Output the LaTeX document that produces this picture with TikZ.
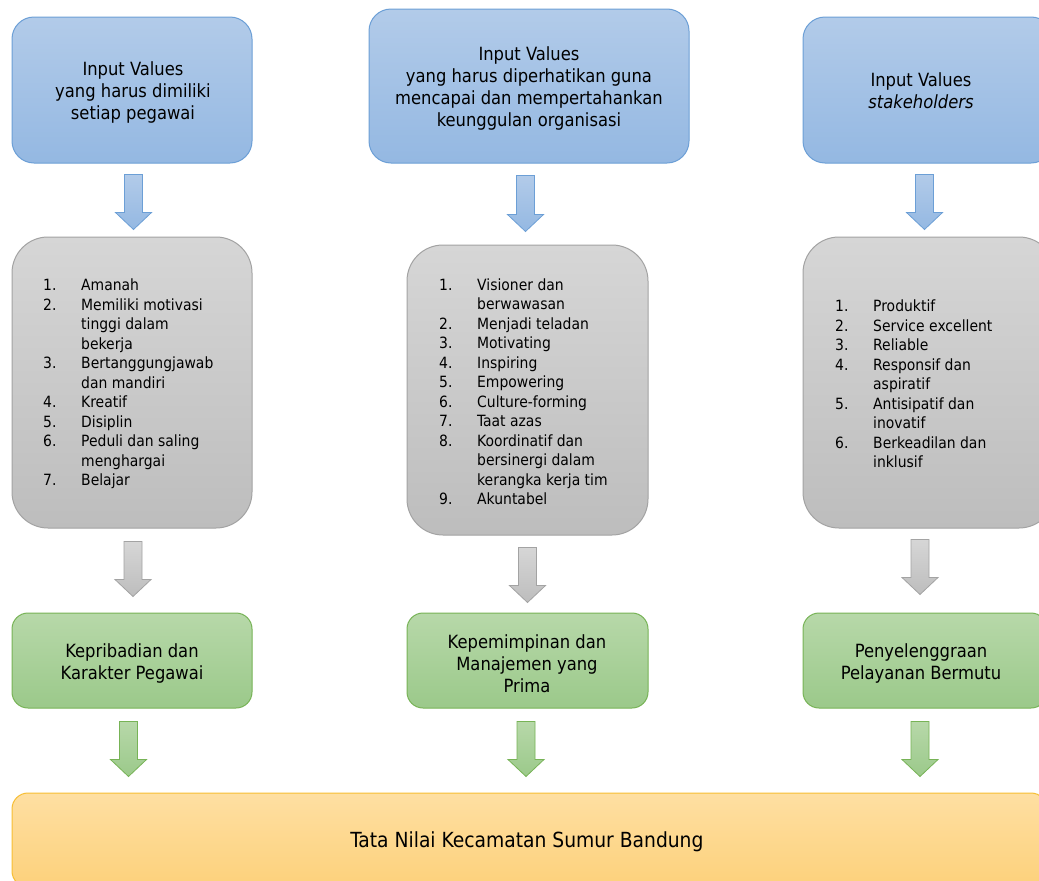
\documentclass[tikz,border=0pt]{standalone}
\usepackage{fontspec}
\setmainfont{DejaVu Sans Condensed}
\usetikzlibrary{calc}
\definecolor{blueT}{HTML}{B2CBE9}
\definecolor{blueB}{HTML}{94B8E2}
\definecolor{blueD}{HTML}{6C9FD6}
\definecolor{grayT}{HTML}{D6D6D6}
\definecolor{grayB}{HTML}{BDBDBD}
\definecolor{grayD}{HTML}{A3A3A3}
\definecolor{greenT}{HTML}{B7D8A9}
\definecolor{greenB}{HTML}{9BC98A}
\definecolor{greenD}{HTML}{77B356}
\definecolor{orangeT}{HTML}{FEDFA2}
\definecolor{orangeB}{HTML}{FDD17B}
\definecolor{orangeD}{HTML}{F7BE33}
\tikzset{
  boxbase/.style={draw, line width=1pt, inner sep=0pt},
  bluebox/.style={boxbase, draw=blueD, top color=blueT, bottom color=blueB, rounded corners=22pt},
  graybox/.style={boxbase, draw=grayD, top color=grayT, bottom color=grayB, rounded corners=36pt},
  greenbox/.style={boxbase, draw=greenD, top color=greenT, bottom color=greenB, rounded corners=16pt},
  orangebox/.style={boxbase, draw=orangeD, top color=orangeT, bottom color=orangeB, rounded corners=16pt},
  title/.style={align=center, inner sep=0pt, text=black, font=\fontsize{18.2}{22}\selectfont},
  bigtitle/.style={align=center, inner sep=0pt, text=black, font=\fontsize{20.8}{24}\selectfont},
  listtext/.style={align=left, inner sep=0pt, anchor=west, text=black, font=\fontsize{15.5}{19.5}\selectfont},
  bluearrow/.style={draw=blueD, line width=0.8pt, top color=blueT, bottom color=blueB},
  grayarrow/.style={draw=grayD, line width=0.8pt, top color=grayT, bottom color=grayB},
  greenarrow/.style={draw=greenD, line width=0.8pt, top color=greenT, bottom color=greenB},
}
\newcommand\nm[1]{\makebox[38pt][l]{#1}}
\newcommand\ct{\hspace*{38pt}}
% style, from node, to node, x centre (pt), gap above, gap below
\newcommand\blkarrow[6]{%
  \path[#1] let \p1=(#2.south), \p2=(#3.north) in
    (#4pt-9pt,\y1-#5pt) -- (#4pt+9pt,\y1-#5pt) -- (#4pt+9pt,\y2+#6pt+17pt)
    -- (#4pt+18pt,\y2+#6pt+17pt) -- (#4pt,\y2+#6pt) -- (#4pt-18pt,\y2+#6pt+17pt)
    -- (#4pt-9pt,\y2+#6pt+17pt) -- cycle;}
\begin{document}
\begin{tikzpicture}[x=1pt,y=-1pt]
\clip (0,0) rectangle (1039,881);
\fill[white] (0,0) rectangle (1039,881);

% top row
\node[bluebox, minimum width=240, minimum height=146] (b1) at (132,90) {};
\node[title] (b1t) at (133,92.5) {Input Values\\yang harus dimiliki\\setiap pegawai};
\node[bluebox, minimum width=320, minimum height=154] (b2) at (529,86) {};
\node[title] (b2t) at (529,88.5) {Input Values\\yang harus diperhatikan guna\\mencapai dan mempertahankan\\keunggulan organisasi};
\node[bluebox, minimum width=250, minimum height=146] (b3) at (928,90) {};
\node[title] (b3t) at (921,90.5) {Input Values\\\textit{stakeholders}};

% middle row
\node[graybox, minimum width=240, minimum height=291] (g1) at (132,382.5) {};
\node[listtext] (l1) at (43,384) {%
\nm{1.}Amanah\\
\nm{2.}Memiliki motivasi\\
\ct tinggi dalam\\
\ct bekerja\\
\nm{3.}Bertanggungjawab\\
\ct dan mandiri\\
\nm{4.}Kreatif\\
\nm{5.}Disiplin\\
\nm{6.}Peduli dan saling\\
\ct menghargai\\
\nm{7.}Belajar};

\node[graybox, minimum width=241, minimum height=290] (g2) at (527.5,390) {};
\node[listtext] (l2) at (439,391.5) {%
\nm{1.}Visioner dan\\
\ct berwawasan\\
\nm{2.}Menjadi teladan\\
\nm{3.}Motivating\\
\nm{4.}Inspiring\\
\nm{5.}Empowering\\
\nm{6.}Culture-forming\\
\nm{7.}Taat azas\\
\nm{8.}Koordinatif dan\\
\ct bersinergi dalam\\
\ct kerangka kerja tim\\
\nm{9.}Akuntabel};

\node[graybox, minimum width=252, minimum height=291] (g3) at (929,382.5) {};
\node[listtext] (l3) at (835,384) {%
\nm{1.}Produktif\\
\nm{2.}Service excellent\\
\nm{3.}Reliable\\
\nm{4.}Responsif dan\\
\ct aspiratif\\
\nm{5.}Antisipatif dan\\
\ct inovatif\\
\nm{6.}Berkeadilan dan\\
\ct inklusif};

% green row
\node[greenbox, minimum width=240, minimum height=95] (r1) at (132,660.5) {};
\node[title] (r1t) at (132,663.5) {Kepribadian dan\\Karakter Pegawai};
\node[greenbox, minimum width=241, minimum height=95] (r2) at (527.5,660.5) {};
\node[title] (r2t) at (527,664) {Kepemimpinan dan\\Manajemen yang\\Prima};
\node[greenbox, minimum width=244, minimum height=95] (r3) at (925,660.5) {};
\node[title] (r3t) at (921,663.5) {Penyelenggraan\\Pelayanan Bermutu};

% bottom
\node[orangebox, minimum width=1035, minimum height=94] (t) at (529.5,840) {};
\node[bigtitle] (tt) at (527,842) {Tata Nilai Kecamatan Sumur Bandung};

% arrows
\blkarrow{bluearrow}{b1}{g1}{133.5}{11}{7}
\blkarrow{bluearrow}{b2}{g2}{525.5}{12}{13}
\blkarrow{bluearrow}{b3}{g3}{924.5}{11}{7}
\blkarrow{grayarrow}{g1}{r1}{133}{13}{16}
\blkarrow{grayarrow}{g2}{r2}{527.5}{12}{10}
\blkarrow{grayarrow}{g3}{r3}{920}{11}{18}
\blkarrow{greenarrow}{r1}{t}{128.5}{13}{16}
\blkarrow{greenarrow}{r2}{t}{526}{13}{16}
\blkarrow{greenarrow}{r3}{t}{920}{13}{16}
\end{tikzpicture}
\end{document}
